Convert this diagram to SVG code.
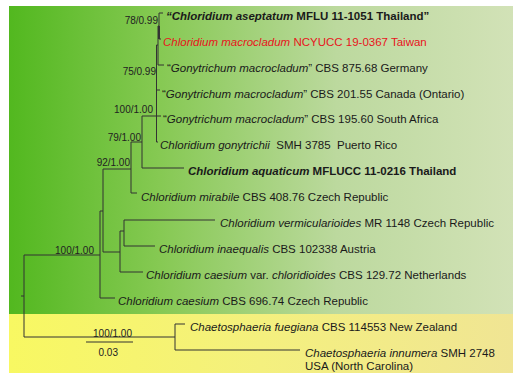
<svg xmlns="http://www.w3.org/2000/svg" width="520" height="380" viewBox="0 0 520 380">
<defs>
<linearGradient id="gGreen" x1="0" y1="0" x2="1" y2="0">
<stop offset="0" stop-color="#52b81f"/>
<stop offset="0.3" stop-color="#86c953"/>
<stop offset="0.65" stop-color="#bcd99e"/>
<stop offset="1" stop-color="#d2e2b7"/>
</linearGradient>
<linearGradient id="gYellow" x1="0" y1="0" x2="1" y2="0">
<stop offset="0" stop-color="#f8f862"/>
<stop offset="0.5" stop-color="#f4f07e"/>
<stop offset="1" stop-color="#f0e594"/>
</linearGradient>
<style>
.t{font-family:"Liberation Sans",Arial,sans-serif;font-size:11.5px;fill:#1a1a1a}
.b{font-weight:bold}
.i{font-style:italic}
.red{fill:#e8141c}
.lab{font-family:"Liberation Sans",Arial,sans-serif;font-size:10px;fill:#222;text-anchor:end}
.br{stroke:#333;stroke-width:1;fill:none}
</style>
</defs>
<rect id="panel-green" x="9" y="6" width="504" height="308" fill="url(#gGreen)"/>
<rect id="panel-yellow" x="9" y="314" width="504" height="59" fill="url(#gYellow)"/>
<g id="connectors" class="br">
<path d="M159 13V39M159 13H163M159 39H161"/>
<path d="M159 26V39" stroke-width="2"/>
<path d="M158 26V65M158 26H159M158 65H164"/>
<path d="M156.5 45V142M156.5 45H158M156.5 90H160M156.5 116H161M156.5 142H158"/>
<path d="M142 116H156.5M142 116V168M142 168H184"/>
<path d="M131 142H142M131 142V193M131 193H137"/>
<path d="M103 169H131M103 169V252"/>
<path d="M100 211H103M100 211V298M100 298H115"/>
<path d="M103 252H120M120 231V272M120 272H143"/>
<path d="M120 231H124M124 220V246M124 220H215M124 246H155"/>
<path d="M24 255H100M24 255V337M21 296H24"/>
<path d="M24 337H175M175 324V350M175 324H185M175 350H300"/>
<path d="M86 342H133"/>
</g>
<g id="support-labels">
<text class="lab" x="158" y="24">78/0.99</text>
<text class="lab" x="156" y="75">75/0.99</text>
<text class="lab" x="153" y="113">100/1.00</text>
<text class="lab" x="141" y="141">79/1.00</text>
<text class="lab" x="130" y="166">92/1.00</text>
<text class="lab" x="94" y="254">100/1.00</text>
<text class="lab" x="132" y="337">100/1.00</text>
<text class="lab" x="118" y="356">0.03</text>
</g>
<g id="taxon-aseptatum"><text class="t b" x="166" y="20"><tspan class="i">“Chloridium aseptatum</tspan> MFLU 11-1051 Thailand”</text></g>
<g id="taxon-macrocladum-tw"><text class="t red" x="163" y="46"><tspan class="i">Chloridium macrocladum</tspan> NCYUCC 19-0367 Taiwan</text></g>
<g id="taxon-gony-germany"><text class="t" x="167" y="72">“<tspan class="i">Gonytrichum macrocladum</tspan>” CBS 875.68 Germany</text></g>
<g id="taxon-gony-canada"><text class="t" x="162" y="98">“<tspan class="i">Gonytrichum macrocladum</tspan>” CBS 201.55 Canada (Ontario)</text></g>
<g id="taxon-gony-safrica"><text class="t" x="163" y="123">“<tspan class="i">Gonytrichum macrocladum</tspan>” CBS 195.60 South Africa</text></g>
<g id="taxon-gonytrichii"><text class="t" x="160" y="149" xml:space="preserve"><tspan class="i">Chloridium gonytrichii</tspan>  SMH 3785  Puerto Rico</text></g>
<g id="taxon-aquaticum"><text class="t b" x="188" y="175"><tspan class="i">Chloridium aquaticum</tspan> MFLUCC 11-0216 Thailand</text></g>
<g id="taxon-mirabile"><text class="t" x="141" y="201"><tspan class="i">Chloridium mirabile</tspan> CBS 408.76 Czech Republic</text></g>
<g id="taxon-vermicularioides"><text class="t" x="220" y="227"><tspan class="i">Chloridium vermicularioides</tspan> MR 1148 Czech Republic</text></g>
<g id="taxon-inaequalis"><text class="t" x="159" y="253"><tspan class="i">Chloridium inaequalis</tspan> CBS 102338 Austria</text></g>
<g id="taxon-caesium-var"><text class="t" x="146" y="279"><tspan class="i">Chloridium caesium</tspan> var. <tspan class="i">chloridioides</tspan> CBS 129.72 Netherlands</text></g>
<g id="taxon-caesium"><text class="t" x="118" y="305"><tspan class="i">Chloridium caesium</tspan> CBS 696.74 Czech Republic</text></g>
<g id="taxon-fuegiana"><text class="t" x="190" y="331"><tspan class="i">Chaetosphaeria fuegiana</tspan> CBS 114553 New Zealand</text></g>
<g id="taxon-innumera"><text class="t" x="305" y="357"><tspan class="i">Chaetosphaeria innumera</tspan> SMH 2748</text><text class="t" x="305" y="370">USA (North Carolina)</text></g>
</svg>
